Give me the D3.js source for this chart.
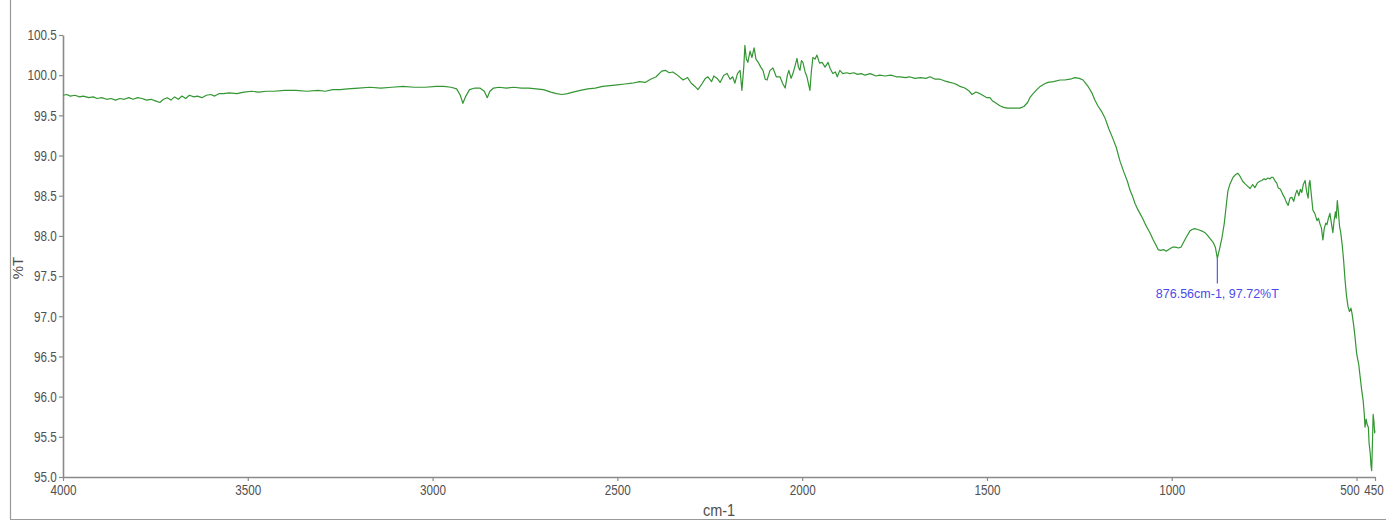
<!DOCTYPE html>
<html>
<head>
<meta charset="utf-8">
<script src="https://cdn.jsdelivr.net/npm/d3@7"></script>
<style>
  html, body { margin: 0; padding: 0; background: #ffffff; }
  svg { display: block; }
</style>
</head>
<body>
<svg id="chart" width="1386" height="521"></svg>
<script>
// FTIR spectrum: wavenumber (cm-1) and transmittance (%T)
const wavenumber = [
  4000, 3990, 3980, 3968, 3955, 3945, 3930, 3918, 3908, 3895,
  3882, 3870, 3858, 3846, 3834, 3822, 3810, 3798, 3786, 3774,
  3762, 3750, 3738, 3728, 3718, 3708, 3698, 3688, 3678, 3668,
  3658, 3646, 3636, 3624, 3612, 3600, 3590, 3578, 3566, 3550,
  3530, 3510, 3490, 3470, 3450, 3430, 3400, 3370, 3340, 3310,
  3290, 3270, 3250, 3230, 3200, 3170, 3140, 3110, 3080, 3050,
  3020, 2990, 2970, 2950, 2935, 2925, 2918, 2910, 2900, 2885,
  2872, 2860, 2852, 2845, 2835, 2820, 2800, 2780, 2760, 2740,
  2720, 2700, 2680, 2665, 2650, 2635, 2620, 2600, 2580, 2560,
  2540, 2520, 2500, 2480, 2460, 2440, 2425, 2410, 2395, 2380,
  2370, 2360, 2350, 2340, 2322, 2310, 2300, 2290, 2282, 2270,
  2262, 2255, 2245, 2239, 2230, 2222, 2212, 2203, 2195, 2188,
  2182, 2175, 2168, 2163, 2158, 2155, 2151, 2147, 2141, 2136,
  2130, 2125, 2119, 2112, 2106, 2100, 2095, 2087, 2079, 2070,
  2060, 2053, 2046, 2040, 2036, 2030, 2025, 2019, 2014, 2010,
  2006, 2002, 1998, 1992, 1987, 1979, 1975, 1971, 1965, 1960,
  1953, 1946, 1938, 1930, 1924, 1917, 1910, 1905, 1898, 1890,
  1880, 1871, 1860, 1850, 1840, 1830, 1816, 1800, 1790, 1776,
  1760, 1745, 1735, 1720, 1710, 1695, 1680, 1665, 1654, 1640,
  1627, 1615, 1600, 1590, 1580, 1573, 1560, 1550, 1540, 1530,
  1519, 1508, 1500, 1492, 1485, 1478, 1465, 1455, 1445, 1430,
  1418, 1411, 1400, 1390, 1384, 1375, 1365, 1356, 1345, 1335,
  1320, 1302, 1290, 1275, 1262, 1250, 1240, 1235, 1225, 1215,
  1208, 1200, 1190, 1180, 1170, 1160, 1150, 1140, 1130, 1120,
  1113, 1105, 1099, 1092, 1086, 1079, 1072, 1065, 1058, 1050,
  1042, 1037, 1030, 1022, 1015, 1005, 998, 990, 982, 975,
  968, 960, 951, 945, 938, 930, 924, 918, 910, 902,
  895, 888, 882, 876.56, 870, 864, 858, 852, 848, 842,
  834, 828, 821, 815, 808, 802, 795, 788, 781, 775,
  768, 762, 756, 750, 745, 740, 734, 730, 726, 720,
  716, 712, 706, 700, 694, 690, 685, 680, 675, 670,
  665, 661, 656, 652, 648, 644, 639, 635, 631, 628,
  626, 622, 618, 613, 607, 603, 599, 595, 591, 587,
  583, 580, 576, 572, 568, 564, 561, 557, 555, 552,
  549, 546, 543, 539, 535, 531, 527, 523, 519, 515,
  512, 508, 504, 500, 497, 494, 490, 486, 482, 479,
  477, 474, 471, 468, 466, 463, 461, 459, 457, 455,
  453, 451, 450
];

const transmittance = [
  99.75, 99.76, 99.74, 99.75, 99.73, 99.74, 99.72, 99.73, 99.71, 99.72,
  99.70, 99.71, 99.69, 99.71, 99.70, 99.72, 99.70, 99.72, 99.71, 99.69,
  99.70, 99.68, 99.66, 99.70, 99.72, 99.69, 99.73, 99.70, 99.74, 99.71,
  99.75, 99.73, 99.74, 99.72, 99.75, 99.76, 99.74, 99.77, 99.77, 99.78,
  99.77, 99.79, 99.80, 99.79, 99.80, 99.80, 99.81, 99.81, 99.80, 99.81,
  99.80, 99.82, 99.82, 99.83, 99.84, 99.85, 99.84, 99.85, 99.86, 99.85,
  99.85, 99.86, 99.86, 99.85, 99.83, 99.75, 99.65, 99.74, 99.82, 99.84,
  99.84, 99.80, 99.72, 99.80, 99.84, 99.85, 99.84, 99.85, 99.84, 99.84,
  99.83, 99.82, 99.79, 99.77, 99.76, 99.77, 99.79, 99.81, 99.83, 99.84,
  99.86, 99.87, 99.88, 99.89, 99.90, 99.92, 99.91, 99.95, 99.98, 100.05,
  100.06, 100.03, 100.04, 100.01, 99.94, 99.97, 99.90, 99.86, 99.82, 99.90,
  99.96, 99.98, 99.92, 99.99, 99.96, 99.91, 100.00, 100.02, 99.95, 99.98,
  99.90, 100.02, 100.06, 99.81, 100.10, 100.37, 100.20, 100.16, 100.30, 100.22,
  100.34, 100.20, 100.16, 100.10, 100.06, 99.95, 99.94, 100.06, 100.09, 99.98,
  99.98, 99.90, 99.84, 100.00, 100.06, 99.96, 100.02, 100.12, 100.21, 100.10,
  100.06, 100.18, 100.16, 100.04, 99.98, 99.81, 100.05, 100.22, 100.20, 100.25,
  100.15, 100.16, 100.10, 100.16, 100.08, 100.02, 100.04, 99.98, 100.06, 100.02,
  100.03, 100.02, 100.03, 100.01, 100.02, 100.00, 100.02, 99.99, 100.00, 99.99,
  100.00, 99.98, 99.98, 99.97, 99.98, 99.96, 99.97, 99.96, 99.98, 99.95,
  99.95, 99.93, 99.91, 99.90, 99.88, 99.86, 99.84, 99.81, 99.76, 99.79,
  99.77, 99.74, 99.72, 99.72, 99.68, 99.66, 99.62, 99.60, 99.59, 99.59,
  99.59, 99.59, 99.61, 99.66, 99.72, 99.77, 99.82, 99.86, 99.89, 99.91,
  99.92, 99.94, 99.94, 99.95, 99.97, 99.96, 99.94, 99.91, 99.85, 99.77,
  99.69, 99.62, 99.55, 99.46, 99.33, 99.22, 99.10, 98.93, 98.80, 98.68,
  98.57, 98.48, 98.40, 98.33, 98.28, 98.22, 98.15, 98.09, 98.03, 97.95,
  97.88, 97.83, 97.82, 97.83, 97.81, 97.84, 97.86, 97.86, 97.85, 97.86,
  97.92, 97.99, 98.06, 98.08, 98.09, 98.08, 98.07, 98.06, 98.04, 98.00,
  97.96, 97.92, 97.86, 97.72, 97.85, 97.98, 98.15, 98.40, 98.56, 98.65,
  98.73, 98.76, 98.78, 98.74, 98.68, 98.65, 98.62, 98.59, 98.64, 98.60,
  98.66, 98.68, 98.69, 98.71, 98.70, 98.72, 98.71, 98.73, 98.73, 98.68,
  98.66, 98.60, 98.58, 98.52, 98.47, 98.42, 98.38, 98.47, 98.48, 98.43,
  98.52, 98.57, 98.50, 98.58, 98.54, 98.64, 98.69, 98.55, 98.47, 98.66,
  98.69, 98.50, 98.32, 98.28, 98.19, 98.22, 98.15, 98.10, 97.95, 98.10,
  98.16, 98.14, 98.22, 98.28, 98.16, 98.04, 98.18, 98.30, 98.22, 98.44,
  98.30, 98.12, 98.05, 97.90, 97.70, 97.45, 97.25, 97.12, 97.06, 97.10,
  97.03, 96.90, 96.74, 96.55, 96.47, 96.40, 96.24, 96.08, 95.95, 95.78,
  95.62, 95.72, 95.65, 95.62, 95.42, 95.30, 95.15, 95.08, 95.40, 95.78,
  95.70, 95.55, 95.58
];

// Axis ticks
const xTickValues = [4000, 3500, 3000, 2500, 2000, 1500, 1000, 500, 450];
const yTickValues = [95.0, 95.5, 96.0, 96.5, 97.0, 97.5, 98.0, 98.5, 99.0, 99.5, 100.0, 100.5];

// Labelled peak
const peakWavenumber = 876.56;
const peakTransmittance = 97.72;

const svg = d3.select("#chart");
const W = 1386, H = 521;
const plot = { left: 63, right: 1375, top: 35, bottom: 477 };

const x = d3.scaleLinear().domain([4000, 450]).range([plot.left, plot.right]);
const y = d3.scaleLinear().domain([95, 100.5]).range([plot.bottom, plot.top]);

const axisColor = "#8a8a8a";
const labelColor = "#505050";
const font = "'Liberation Sans', Arial, sans-serif";

// outer frame (left and bottom edges)
svg.append("line").attr("x1", 10.5).attr("x2", 10.5).attr("y1", 0).attr("y2", 519.5)
  .attr("stroke", "#9a9a9a").attr("stroke-width", 1.2);
svg.append("line").attr("x1", 10).attr("x2", W).attr("y1", 519.5).attr("y2", 519.5)
  .attr("stroke", "#9a9a9a").attr("stroke-width", 1.2);

// x axis
const gx = svg.append("g")
  .attr("transform", `translate(0,${plot.bottom})`)
  .call(d3.axisBottom(x).tickValues(xTickValues).tickSize(4).tickSizeOuter(0)
    .tickFormat(d3.format("d")));

// y axis
const gy = svg.append("g")
  .attr("transform", `translate(${plot.left},0)`)
  .call(d3.axisLeft(y).tickValues(yTickValues).tickSize(4).tickSizeOuter(0)
    .tickFormat(d3.format(".1f")));

[gx, gy].forEach(g => {
  g.select(".domain").attr("stroke", axisColor).attr("stroke-width", 1.6);
  g.selectAll(".tick line").attr("stroke", axisColor).attr("stroke-width", 1.2);
  g.selectAll(".tick text")
    .attr("fill", labelColor)
    .style("font-family", font)
    .style("font-size", "15px");
});
// condensed tick labels; the two closely spaced end labels are nudged apart
gx.selectAll(".tick text")
  .attr("x", d => (d === 500 ? -9 : d === 450 ? -2 : 0))
  .attr("transform", "scale(0.78,1)");
gy.selectAll(".tick text").attr("x", -8).attr("transform", "scale(0.78,1)");

// axis titles
svg.append("text")
  .attr("transform", `translate(${(plot.left + plot.right) / 2},516) scale(0.85,1)`)
  .attr("text-anchor", "middle")
  .attr("fill", labelColor)
  .style("font-family", font).style("font-size", "17px")
  .text("cm-1");

svg.append("text")
  .attr("transform", "translate(23,268) rotate(-90)")
  .attr("text-anchor", "middle")
  .attr("fill", labelColor)
  .style("font-family", font).style("font-size", "15px")
  .text("%T");

// spectrum
const spectrum = wavenumber.map((w, i) => ({ w, t: transmittance[i] }));
const line = d3.line().x(d => x(d.w)).y(d => y(d.t));

svg.append("path")
  .datum(spectrum)
  .attr("fill", "none")
  .attr("stroke", "#339633")
  .attr("stroke-width", 1.2)
  .attr("stroke-linejoin", "round")
  .attr("d", line);

// peak marker and label
const px = x(peakWavenumber), py = y(peakTransmittance);
svg.append("line")
  .attr("x1", px).attr("x2", px)
  .attr("y1", py).attr("y2", py + 25)
  .attr("stroke", "#5a5af0").attr("stroke-width", 1.2);

svg.append("text")
  .attr("x", px).attr("y", py + 40)
  .attr("text-anchor", "middle")
  .attr("fill", "#4b4bea")
  .style("font-family", font).style("font-size", "12.5px")
  .text(`${peakWavenumber}cm-1, ${peakTransmittance}%T`);
</script>
</body>
</html>
